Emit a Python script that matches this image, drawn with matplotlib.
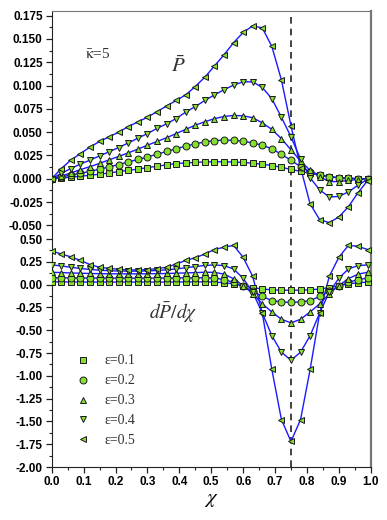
import matplotlib
matplotlib.use("Agg")
import matplotlib.pyplot as plt
from matplotlib.ticker import FixedLocator, FixedFormatter

plt.rcParams['mathtext.fontset'] = 'stix'
plt.rcParams['axes.unicode_minus'] = False

# chi positions of the computed points
chi = [0.00, 0.03, 0.06, 0.09, 0.12, 0.15, 0.18, 0.21, 0.24, 0.27, 0.30, 0.33,
       0.36, 0.39, 0.42, 0.45, 0.48, 0.51, 0.54, 0.57, 0.60, 0.63, 0.66, 0.69,
       0.72, 0.75, 0.78, 0.81, 0.84, 0.87, 0.90, 0.93, 0.96, 0.99]

eps_labels = ['ε=0.1', 'ε=0.2', 'ε=0.3', 'ε=0.4', 'ε=0.5']
markers = ['s', 'o', '^', 'v', '<']

# pressure P-bar (upper group)
p_01 = [0, 0.0009, 0.0017, 0.0027, 0.0038, 0.0049, 0.0062, 0.0077, 0.0091, 0.0103,
        0.0120, 0.0134, 0.0150, 0.0163, 0.0170, 0.0176, 0.0180, 0.0182, 0.0182, 0.0180,
        0.0175, 0.0167, 0.0156, 0.0142, 0.0123, 0.0100, 0.0080, 0.0058, 0.0040, 0.0022,
        0.0012, 0.0005, 0.0002, 0.0]
p_02 = [0, 0.0020, 0.0040, 0.0058, 0.0080, 0.0103, 0.0127, 0.0153, 0.0180, 0.0207,
        0.0234, 0.0263, 0.0293, 0.0322, 0.0350, 0.0375, 0.0395, 0.0410, 0.0415, 0.0413,
        0.0403, 0.0385, 0.0360, 0.0322, 0.0262, 0.0198, 0.0130, 0.0075, 0.0045, 0.0022,
        0.0012, 0.0005, 0.0002, 0.0]
p_03 = [0, 0.0030, 0.0062, 0.0098, 0.0130, 0.0165, 0.0203, 0.0240, 0.0278, 0.0318,
        0.0360, 0.0400, 0.0440, 0.0485, 0.0530, 0.0575, 0.0612, 0.0645, 0.0668, 0.0680,
        0.0675, 0.0655, 0.0600, 0.0530, 0.0430, 0.0310, 0.0190, 0.0090, 0.0020, -0.0030,
        -0.0030, -0.0018, -0.0008, 0.0]
p_04 = [0, 0.0058, 0.0110, 0.0158, 0.0200, 0.0245, 0.0290, 0.0335, 0.0385, 0.0435,
        0.0485, 0.0540, 0.0590, 0.0646, 0.0715, 0.0775, 0.0840, 0.0900, 0.0955, 0.1005,
        0.1040, 0.1040, 0.0980, 0.0860, 0.0660, 0.0450, 0.0210, 0.0010, -0.0120, -0.0195,
        -0.0190, -0.0140, -0.0070, -0.0005]
p_05 = [0, 0.011, 0.020, 0.027, 0.034, 0.040, 0.045, 0.050, 0.056, 0.061,
        0.066, 0.072, 0.078, 0.084, 0.090, 0.099, 0.109, 0.121, 0.133, 0.146,
        0.157, 0.164, 0.162, 0.142, 0.106, 0.057, 0.012, -0.027, -0.044, -0.047,
        -0.041, -0.030, -0.015, -0.002]

# pressure gradient dP/dchi (lower group)
d_01 = [0.03, 0.03, 0.029, 0.029, 0.028, 0.028, 0.028, 0.028, 0.028, 0.028,
        0.028, 0.028, 0.028, 0.029, 0.029, 0.03, 0.03, 0.028, 0.02, 0.008,
        -0.012, -0.033, -0.048, -0.057, -0.061, -0.062, -0.061, -0.057, -0.048, -0.033,
        -0.012, 0.008, 0.02, 0.028]
d_02 = [0.075, 0.075, 0.074, 0.073, 0.072, 0.072, 0.071, 0.071, 0.071, 0.071,
        0.071, 0.072, 0.072, 0.073, 0.074, 0.075, 0.075, 0.072, 0.055, 0.025,
        -0.02, -0.07, -0.13, -0.175, -0.19, -0.195, -0.19, -0.175, -0.13, -0.07,
        -0.02, 0.025, 0.055, 0.072]
d_03 = [0.135, 0.132, 0.128, 0.125, 0.122, 0.12, 0.119, 0.118, 0.118, 0.118,
        0.119, 0.12, 0.122, 0.125, 0.128, 0.132, 0.135, 0.135, 0.115, 0.065,
        -0.01, -0.1, -0.21, -0.3, -0.38, -0.42, -0.38, -0.3, -0.21, -0.1,
        -0.01, 0.065, 0.115, 0.135]
d_04 = [0.216, 0.205, 0.19, 0.177, 0.166, 0.158, 0.152, 0.149, 0.148, 0.148,
        0.15, 0.155, 0.162, 0.172, 0.185, 0.198, 0.21, 0.216, 0.208, 0.172,
        0.07, -0.084, -0.31, -0.56, -0.74, -0.83, -0.74, -0.56, -0.31, -0.084,
        0.07, 0.172, 0.208, 0.216]
d_05 = [0.37, 0.335, 0.305, 0.265, 0.22, 0.19, 0.178, 0.168, 0.162, 0.16,
        0.165, 0.175, 0.19, 0.225, 0.265, 0.295, 0.335, 0.385, 0.41, 0.43,
        0.30, 0.09, -0.31, -0.93, -1.48, -1.72, -1.48, -0.93, -0.31, 0.09,
        0.30, 0.43, 0.42, 0.385]

p_series = [p_01, p_02, p_03, p_04, p_05]
d_series = [d_01, d_02, d_03, d_04, d_05]

green = '#86E02E'
blue = '#1a1aff'
tick_font = dict(family='Liberation Sans', weight='bold', size=8.5)

fig = plt.figure(figsize=(3.87, 5.2), dpi=100)
rect = [0.1336, 0.1019, 0.8244, 0.8769]
ax = fig.add_axes(rect)
ax2 = fig.add_axes(rect, sharex=ax)
ax2.patch.set_visible(False)

# lower group on ax
for ys, m, lab in zip(d_series, markers, eps_labels):
    ax.plot(chi, ys, color=blue, lw=1.0, zorder=2)
    ax.plot(chi, ys, linestyle='none', marker=m, ms=5, mfc=green, mec='#1a1a1a',
            mew=0.7, label=lab, zorder=3)

# upper group on ax2
for ys, m in zip(p_series, markers):
    ax2.plot(chi, ys, color=blue, lw=1.0, zorder=2)
    ax2.plot(chi, ys, linestyle='none', marker=m, ms=5, mfc=green, mec='#1a1a1a',
             mew=0.7, zorder=3)

ax.axvline(0.75, color='#222222', lw=1.2, ls=(0, (4, 3)), zorder=1)

ax.set_xlim(0, 1.0)
ax.set_ylim(-2.0, 3.0)
ax2.set_ylim(-0.3093, 0.18)

# lower y ticks
d_ticks = [-2.0, -1.75, -1.5, -1.25, -1.0, -0.75, -0.5, -0.25, 0.0, 0.25, 0.5]
ax.yaxis.set_major_locator(FixedLocator(d_ticks))
ax.yaxis.set_major_formatter(FixedFormatter(['%.2f' % v for v in d_ticks]))
ax.yaxis.set_minor_locator(FixedLocator([v + 0.125 for v in d_ticks[:-1]]))

# upper y ticks
p_ticks = [-0.05, -0.025, 0.0, 0.025, 0.05, 0.075, 0.1, 0.125, 0.15, 0.175]
ax2.yaxis.set_major_locator(FixedLocator(p_ticks))
ax2.yaxis.set_major_formatter(FixedFormatter(['%.3f' % v for v in p_ticks]))
ax2.yaxis.set_minor_locator(FixedLocator([v + 0.0125 for v in p_ticks[:-1]]))

x_ticks = [0.0, 0.1, 0.2, 0.3, 0.4, 0.5, 0.6, 0.7, 0.8, 0.9, 1.0]
ax.xaxis.set_major_locator(FixedLocator(x_ticks))
ax.xaxis.set_major_formatter(FixedFormatter(['%.1f' % v for v in x_ticks]))
ax.xaxis.set_minor_locator(FixedLocator([v + 0.05 for v in x_ticks[:-1]]))

for a in (ax, ax2):
    a.tick_params(axis='both', which='major', direction='out', length=4.5, width=0.9,
                  color='#222222', pad=2)
    a.tick_params(axis='both', which='minor', direction='out', length=2.5, width=0.8,
                  color='#222222')
    for lbl in a.get_yticklabels() + a.get_xticklabels():
        lbl.set_fontfamily(tick_font['family'])
        lbl.set_fontweight(tick_font['weight'])
        lbl.set_fontsize(tick_font['size'])

ax2.tick_params(axis='x', which='both', bottom=False, labelbottom=False)
for s in ax2.spines.values():
    s.set_visible(False)

ax.spines['left'].set_color('#222222')
ax.spines['bottom'].set_color('#222222')
ax.spines['right'].set_color('#777777')
ax.spines['right'].set_linewidth(1.6)
ax.spines['top'].set_color('#777777')

ax.set_xlabel(r'$\chi$', fontsize=15, labelpad=1)

ax.text(0.105, 0.898, r'$\bar{\mathrm{\kappa}}$=5', transform=ax.transAxes,
        fontsize=11, family='Liberation Serif', color='#333333')
ax.text(0.375, 0.866, r'$\bar{P}$', transform=ax.transAxes, fontsize=15,
        color='#333333')
ax.text(0.305, 0.325, r'$d\bar{P}/d\chi$', transform=ax.transAxes, fontsize=14,
        color='#333333')

leg = ax.legend(loc='upper left', bbox_to_anchor=(0.053, 0.262), frameon=False,
                borderpad=0, handlelength=1.0, handletextpad=1.1, labelspacing=0.5,
                prop={'family': 'Liberation Serif', 'size': 10})
for t in leg.get_texts():
    t.set_color('#333333')

fig.savefig('out.png', dpi=100)
